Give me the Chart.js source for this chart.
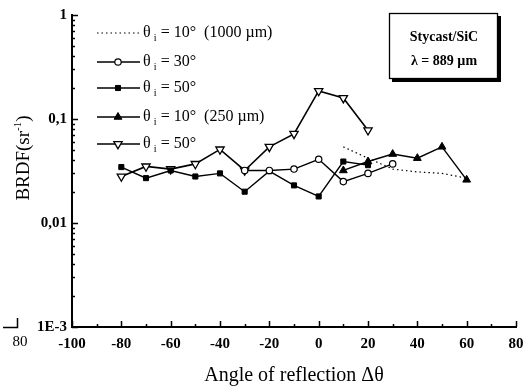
<!DOCTYPE html>
<html>
<head>
<meta charset="utf-8">
<script src="https://cdn.jsdelivr.net/npm/chart.js@4/dist/chart.umd.min.js"></script>
<style>
html,body{margin:0;padding:0;background:#fff;}
#wrap{width:523px;height:386px;}
</style>
</head>
<body>
<div id="wrap"><canvas id="brdf" width="523" height="386"></canvas></div>
<script>

/* angle of reflection (deg) per series */
let angDotted10 = [10,20,30,40,50,60];
let angCirc30   = [-30,-20,-10,0,10,20,30];
let angSq50     = [-80,-70,-60,-50,-40,-30,-20,-10,0,10,20];
let angTri10    = [10,20,30,40,50,60];
let angTriDn50  = [-80,-70,-60,-50,-40,-30,-20,-10,0,10,20];

/* BRDF (sr-1) per series */
let brdfDotted10 = [0.054,0.042,0.033,0.031,0.030,0.027];
let brdfCirc30   = [0.032,0.032,0.033,0.041,0.025,0.030,0.037];
let brdfSq50     = [0.0345,0.027,0.032,0.028,0.030,0.020,0.0315,0.023,0.018,0.039,0.036];
let brdfTri10    = [0.032,0.039,0.046,0.042,0.054,0.026];
let brdfTriDn50  = [0.028,0.035,0.033,0.037,0.051,0.032,0.054,0.072,0.186,0.159,0.078];

/* legend text (subscript i drawn separately) */
let legendTail = [" = 10°  (1000 µm)"," = 30°"," = 50°"," = 10°  (250 µm)"," = 50°"];

/* axis ticks */
let xTickMin = -100, xTickMax = 80, xStep = 20;
let yLabels = {1:"1", 0.1:"0,1", 0.01:"0,01", 0.001:"1E-3"};

const SERIF = "'Liberation Serif','DejaVu Serif',serif";
Chart.defaults.font.family = SERIF;
Chart.defaults.color = "#000";

function pts(xs, ys){
   return xs.map((x,i)=>({x:x, y:ys[i]}));
}

let datasets = [
   {
      data: pts(angDotted10, brdfDotted10),
      borderColor:"#000", borderWidth:1.2, borderDash:[1.5,3],
      pointRadius:0, pointStyle:false
   },
   {
      data: pts(angCirc30, brdfCirc30),
      borderColor:"#000", borderWidth:1.4,
      pointStyle:"circle", pointRadius:3.2,
      pointBackgroundColor:"#fff", pointBorderColor:"#000", pointBorderWidth:1.2
   },
   {
      data: pts(angSq50, brdfSq50),
      borderColor:"#000", borderWidth:1.4,
      pointStyle:"rect", pointRadius:3.6,
      pointBackgroundColor:"#000", pointBorderColor:"#000", pointBorderWidth:1
   },
   {
      data: pts(angTri10, brdfTri10),
      borderColor:"#000", borderWidth:1.4,
      pointStyle:"triangle", pointRadius:4.5,
      pointBackgroundColor:"#000", pointBorderColor:"#000", pointBorderWidth:1
   },
   {
      data: pts(angTriDn50, brdfTriDn50),
      borderColor:"#000", borderWidth:1.6,
      pointStyle:"triangle", pointRotation:180, pointRadius:4.8,
      pointBackgroundColor:"#fff", pointBorderColor:"#000", pointBorderWidth:1.3
   }
];

/* inside ticks, legend, titles, label box */
let decorPlugin = {
   id:"decor",
   afterDraw(chart){
      let ctx = chart.ctx;
      let xs = chart.scales.x, ys = chart.scales.y;
      let area = chart.chartArea;
      ctx.save();
      ctx.strokeStyle = "#000";
      ctx.lineWidth = 1.5;

      /* x ticks pointing up */
      for(let v = xTickMin; v <= xTickMax; v += 10){
         let px = Math.round(xs.getPixelForValue(v)) + 0.5;
         let len = (v % 20 === 0) ? 6 : 3;
         ctx.beginPath();
         ctx.moveTo(px, area.bottom);
         ctx.lineTo(px, area.bottom - len);
         ctx.stroke();
      }

      /* y ticks pointing right */
      for(let d = -3; d <= 0; d++){
         for(let m = 1; m <= 9; m++){
            let v = m * Math.pow(10, d);
            if(v > 1.0001) break;
            let py = Math.round(ys.getPixelForValue(v)) + 0.5;
            let len = (m === 1) ? 6 : 3;
            ctx.beginPath();
            ctx.moveTo(area.left, py);
            ctx.lineTo(area.left + len, py);
            ctx.stroke();
         }
      }

      /* legend */
      let rowY = [33,62,88,117,144];
      chart.data.datasets.forEach(function(ds, i){
         let y = rowY[i];
         ctx.save();
         ctx.lineWidth = ds.borderWidth;
         ctx.setLineDash(ds.borderDash || []);
         ctx.beginPath();
         ctx.moveTo(97, y);
         ctx.lineTo(140, y);
         ctx.stroke();
         ctx.restore();
         if(ds.pointStyle && Chart.helpers && Chart.helpers.drawPoint){
            ctx.save();
            ctx.fillStyle = ds.pointBackgroundColor;
            ctx.strokeStyle = ds.pointBorderColor;
            ctx.lineWidth = ds.pointBorderWidth;
            Chart.helpers.drawPoint(ctx, {
               pointStyle: ds.pointStyle,
               rotation: ds.pointRotation || 0,
               radius: ds.pointRadius,
               borderWidth: ds.pointBorderWidth
            }, 118, y);
            ctx.restore();
         }
         ctx.fillStyle = "#000";
         ctx.textBaseline = "middle";
         ctx.textAlign = "left";
         ctx.font = "16px " + SERIF;
         ctx.fillText("θ", 143, y);
         let w = ctx.measureText("θ").width;
         ctx.font = "10px " + SERIF;
         ctx.fillText("i", 143 + w + 3, y + 5);
         ctx.font = "16px " + SERIF;
         ctx.fillText(legendTail[i], 143 + w + 6, y);
      });

      /* label box with shadow */
      ctx.fillStyle = "#000";
      ctx.fillRect(392, 16, 109, 66);
      ctx.fillStyle = "#fff";
      ctx.fillRect(389, 13, 109, 66);
      ctx.lineWidth = 1.3;
      ctx.strokeRect(389.5, 13.5, 108, 65);
      ctx.fillStyle = "#000";
      ctx.textAlign = "center";
      ctx.font = "bold 14px " + SERIF;
      ctx.fillText("Stycast/SiC", 444, 37);
      ctx.fillText("λ = 889 µm", 444, 61);

      /* x title */
      ctx.font = "20px " + SERIF;
      ctx.textBaseline = "alphabetic";
      ctx.fillText("Angle of reflection Δθ", (area.left + area.right) / 2, 381);

      /* y title with superscript */
      ctx.save();
      ctx.translate(29, 158);
      ctx.rotate(-Math.PI / 2);
      let a = "BRDF(sr", b = "-1", c = ")";
      ctx.font = "19px " + SERIF;
      let wa = ctx.measureText(a).width;
      let wc = ctx.measureText(c).width;
      ctx.font = "11px " + SERIF;
      let wb = ctx.measureText(b).width;
      let x0 = -(wa + wb + wc) / 2;
      ctx.textAlign = "left";
      ctx.font = "19px " + SERIF;
      ctx.fillText(a, x0, 0);
      ctx.font = "11px " + SERIF;
      ctx.fillText(b, x0 + wa, -8);
      ctx.font = "19px " + SERIF;
      ctx.fillText(c, x0 + wa + wb, 0);
      ctx.restore();

      /* stray corner mark and label from the scanned figure */
      ctx.lineWidth = 1.5;
      ctx.beginPath();
      ctx.moveTo(3, 327.5);
      ctx.lineTo(17.5, 327.5);
      ctx.lineTo(17.5, 318);
      ctx.stroke();
      ctx.font = "15px " + SERIF;
      ctx.textAlign = "center";
      ctx.textBaseline = "middle";
      ctx.fillText("80", 20, 342);

      ctx.restore();
   }
};

new Chart(document.getElementById("brdf"), {
   type: "scatter",
   data: { datasets: datasets },
   options: {
      responsive: false,
      animation: false,
      showLine: true,
      layout: { padding: { top: 15, right: 7, left: 0, bottom: 0 } },
      plugins: {
         legend: { display: false },
         tooltip: { enabled: false }
      },
      scales: {
         x: {
            type: "linear",
            min: xTickMin,
            max: xTickMax,
            grid: { display: false, drawTicks: false },
            border: { display: true, color: "#000", width: 2 },
            ticks: {
               stepSize: xStep,
               padding: 8,
               font: { size: 15, weight: "bold" },
               color: "#000"
            },
            afterFit: function(s){
               s.height = 59;
               s.paddingLeft = 0;
               s.paddingRight = 0;
            }
         },
         y: {
            type: "logarithmic",
            min: 0.001,
            max: 1,
            grid: { display: false, drawTicks: false },
            border: { display: true, color: "#000", width: 2 },
            afterBuildTicks: function(s){
               s.ticks = [0.001,0.01,0.1,1].map(v=>({value:v, major:true}));
            },
            ticks: {
               padding: 5,
               font: { size: 15, weight: "bold" },
               color: "#000",
               callback: function(v){
                  return yLabels[v] || "";
               }
            },
            afterFit: function(s){
               s.width = 72;
               s.paddingTop = 0;
               s.paddingBottom = 0;
            }
         }
      }
   },
   plugins: [decorPlugin]
});

</script>
</body>
</html>
